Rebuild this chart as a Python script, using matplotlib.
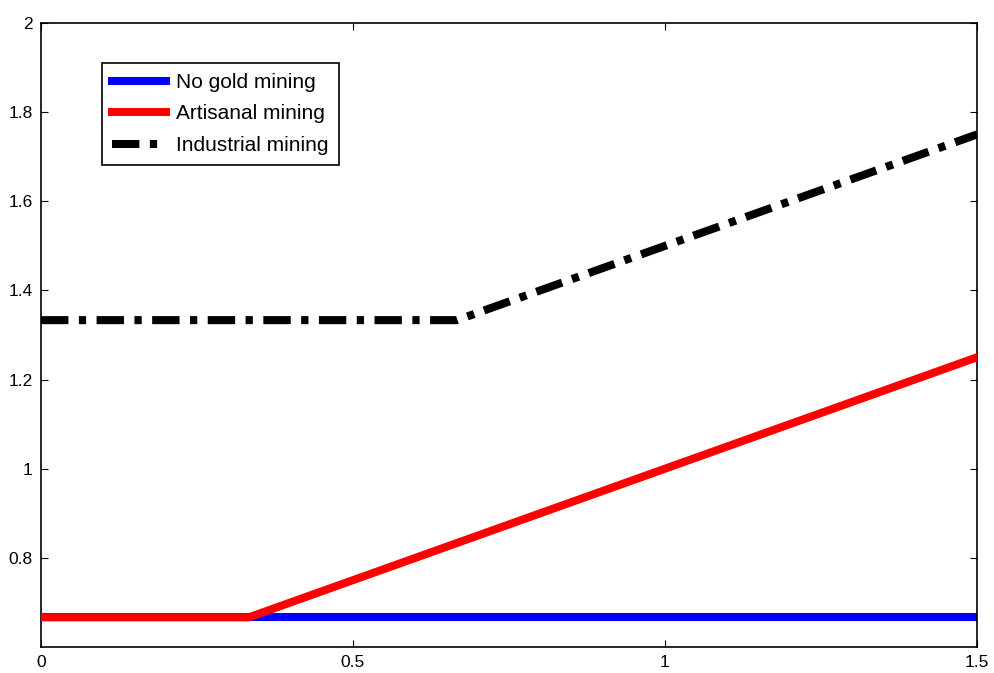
import matplotlib
matplotlib.use("Agg")
import matplotlib.pyplot as plt

# breakpoints of the three piecewise-linear curves
x_none = [0.0, 1.5]
y_none = [2 / 3, 2 / 3]

x_artisanal = [0.0, 1 / 3, 1.5]
y_artisanal = [2 / 3, 2 / 3, 1.25]

x_industrial = [0.0, 2 / 3, 1.5]
y_industrial = [4 / 3, 4 / 3, 1.75]

labels = ["No gold mining", "Artisanal mining", "Industrial mining"]
xticks = [0, 0.5, 1, 1.5]
xticklabels = ["0", "0.5", "1", "1.5"]
yticks = [0.8, 1.0, 1.2, 1.4, 1.6, 1.8, 2.0]
yticklabels = ["0.8", "1", "1.2", "1.4", "1.6", "1.8", "2"]

plt.rcParams['font.family'] = ['Liberation Sans', 'DejaVu Sans']

fig = plt.figure(figsize=(9.95, 6.73), dpi=100)
ax = fig.add_axes([41 / 995, 26 / 673, 936 / 995, 624 / 673])

lw = 5.8
ax.plot(x_none, y_none, color='#0000ff', lw=lw, label=labels[0], zorder=2)
ax.plot(x_artisanal, y_artisanal, color='#ff0000', lw=lw, label=labels[1], zorder=3)
ax.plot(x_industrial, y_industrial, color='black', lw=lw, label=labels[2],
        linestyle=(0, (3.4, 1.3, 0.9, 1.3)), zorder=4)

ax.set_xlim(0, 1.5)
ax.set_ylim(0.6, 2)
ax.set_xticks(xticks)
ax.set_xticklabels(xticklabels)
ax.set_yticks(yticks)
ax.set_yticklabels(yticklabels)
ax.tick_params(direction='in', length=5, width=0.8, labelsize=12.5,
               top=True, right=True, pad=6)
for s in ax.spines.values():
    s.set_linewidth(1.2)

leg = ax.legend(loc='upper left', bbox_to_anchor=(0.065, 0.936),
                fontsize=15, frameon=True, fancybox=False, shadow=False,
                handlelength=2.6, handletextpad=0.5, labelspacing=0.6,
                borderpad=0.48, borderaxespad=0)
leg.get_frame().set_edgecolor('black')
leg.get_frame().set_linewidth(1.2)
leg.get_frame().set_alpha(1)

fig.savefig("out.png", dpi=100)
